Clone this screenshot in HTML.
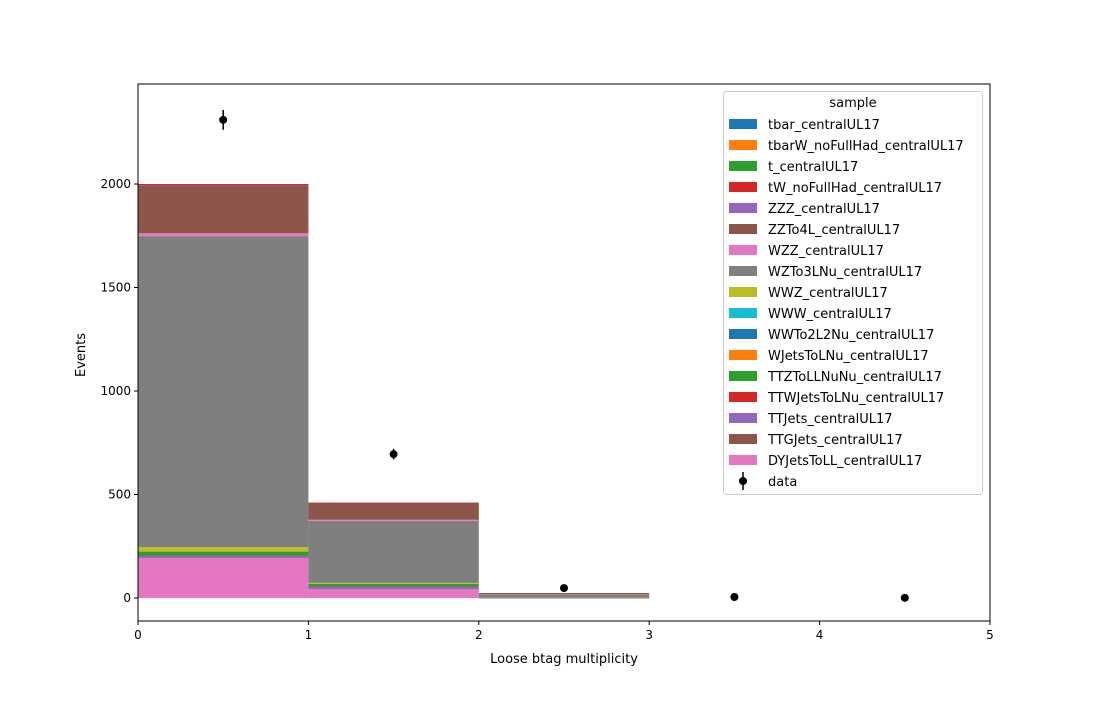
<!DOCTYPE html>
<html><head><meta charset="utf-8">
<style>
body{margin:0;background:#fff;font-family:"Liberation Sans","DejaVu Sans",sans-serif;}
svg text{font-family:"DejaVu Sans","Liberation Sans",sans-serif;}
</style></head>
<body>
<svg id="chart" width="1100" height="700" xmlns="http://www.w3.org/2000/svg">
<rect width="1100" height="700" fill="#fff"/>
<g id="bars"></g>
<g id="datapts"></g>
<rect x="138" y="84" width="852" height="537" fill="none" stroke="#000" stroke-width="1"/>
<g id="axes"></g>
<text x="564" y="663" font-size="13" text-anchor="middle">Loose btag multiplicity</text>
<text x="85" y="355" font-size="13" text-anchor="middle" transform="rotate(-90 85 355)">Events</text>
<g id="legend"></g>
</svg>
<script>
const bins = [0, 1, 2, 3, 4, 5];
const samples = ["DYJetsToLL_centralUL17","TTGJets_centralUL17","TTJets_centralUL17","TTWJetsToLNu_centralUL17","TTZToLLNuNu_centralUL17","WJetsToLNu_centralUL17","WWTo2L2Nu_centralUL17","WWW_centralUL17","WWZ_centralUL17","WZTo3LNu_centralUL17","WZZ_centralUL17","ZZTo4L_centralUL17","ZZZ_centralUL17","tW_noFullHad_centralUL17","t_centralUL17","tbarW_noFullHad_centralUL17","tbar_centralUL17"];
const colors = ["#e377c2","#8c564b","#9467bd","#d62728","#2ca02c","#ff7f0e","#1f77b4","#17becf","#bcbd22","#7f7f7f","#e377c2","#8c564b","#9467bd","#d62728","#2ca02c","#ff7f0e","#1f77b4"];
const values = [
 [193, 42, -2, 0, 0],
 [0, 0, 0, 0, 0],
 [10, 13, 2, 0, 0],
 [2, 1, 0, 0, 0],
 [18, 13, 1, 0, 0],
 [0, 0, 0, 0, 0],
 [1, 0, 0, 0, 0],
 [0, 0, 0, 0, 0],
 [22, 4, 1, 0, 0],
 [1502, 300, 16, 0, 0],
 [14, 5, 1, 0, 0],
 [232, 82, 5, 0, 0],
 [1, 0, 0, 0, 0],
 [5, 1, 0, 0, 0],
 [0, 0, 0, 0, 0],
 [0, 0, 0, 0, 0],
 [0, 0, 0, 0, 0]
];
const dataX = [0.5, 1.5, 2.5, 3.5, 4.5];
const dataY = [2310, 695, 48, 5, 1];
const dataErr = [48, 26, 7, 2.2, 1];
const xTicks = [0, 1, 2, 3, 4, 5];
const yTicks = [0, 500, 1000, 1500, 2000];

const NS = "http://www.w3.org/2000/svg";
const X0=138, X1=990, Y0=621, Y1=84, xmin=0, xmax=5, ymin=-111, ymax=2483;
const sx = v => X0 + (v - xmin) / (xmax - xmin) * (X1 - X0);
const sy = v => Y0 - (v - ymin) / (ymax - ymin) * (Y0 - Y1);
function mk(tag, attrs, parent){const e=document.createElementNS(NS,tag);for(const k in attrs)e.setAttribute(k,attrs[k]);parent.appendChild(e);return e;}

const gb = document.getElementById('bars');
for (let b = 0; b < bins.length - 1; b++) {
  let base = 0;
  for (let s = 0; s < samples.length; s++) {
    const v = values[s][b];
    if (v === 0) continue;
    const top = base + v;
    const ya = sy(Math.max(base, top)), yb = sy(Math.min(base, top));
    const r = mk('rect', {x: sx(bins[b]), y: ya, width: sx(bins[b+1]) - sx(bins[b]), height: Math.max(yb - ya, 0.5), fill: colors[s]}, gb);
    
    
    base = top;
  }
}
const gd = document.getElementById('datapts');
for (let i = 0; i < dataX.length; i++) {
  const l = mk('line', {x1: sx(dataX[i]), x2: sx(dataX[i]), y1: sy(dataY[i] - dataErr[i]), y2: sy(dataY[i] + dataErr[i]), stroke: '#000', 'stroke-width': 1.5}, gd);
  
  
  const c = mk('circle', {cx: sx(dataX[i]), cy: sy(dataY[i]), r: 4, fill: '#000'}, gd);
  
  
}
const ga = document.getElementById('axes');
xTicks.forEach(t => {
  mk('line', {x1: sx(t), x2: sx(t), y1: Y0, y2: Y0 + 4, stroke: '#000'}, ga);
  const tx = mk('text', {x: sx(t), y: Y0 + 18, 'font-size': 12, 'text-anchor': 'middle'}, ga);
  tx.textContent = t;
  
  
});
yTicks.forEach(t => {
  mk('line', {x1: X0 - 4, x2: X0, y1: sy(t), y2: sy(t), stroke: '#000'}, ga);
  const tx = mk('text', {x: X0 - 7, y: sy(t) + 4, 'font-size': 12, 'text-anchor': 'end'}, ga);
  tx.textContent = t;
  
  
});
const gl = document.getElementById('legend');
mk('rect', {x: 723.5, y: 91.5, width: 259, height: 403, rx: 3, fill: '#fff', stroke: '#ccc'}, gl);
const tt = mk('text', {x: 853, y: 107, 'font-size': 13, 'text-anchor': 'middle'}, gl);
tt.textContent = 'sample';
for (let i = 0; i < samples.length; i++) {
  const s = samples.length - 1 - i;
  const y = 124 + i * 21;
  mk('rect', {x: 729, y: y - 5, width: 28, height: 10, fill: colors[s]}, gl);
  const t = mk('text', {x: 768, y: y + 5, 'font-size': 13}, gl);
  t.textContent = samples[s];
  
  
}
const yd = 124 + 17 * 21;
mk('line', {x1: 743, x2: 743, y1: yd - 9, y2: yd + 9, stroke: '#000', 'stroke-width': 1.5}, gl);
mk('circle', {cx: 743, cy: yd, r: 4, fill: '#000'}, gl);
const td = mk('text', {x: 768, y: yd + 5, 'font-size': 13}, gl);
td.textContent = 'data';


</script>
</body></html>
